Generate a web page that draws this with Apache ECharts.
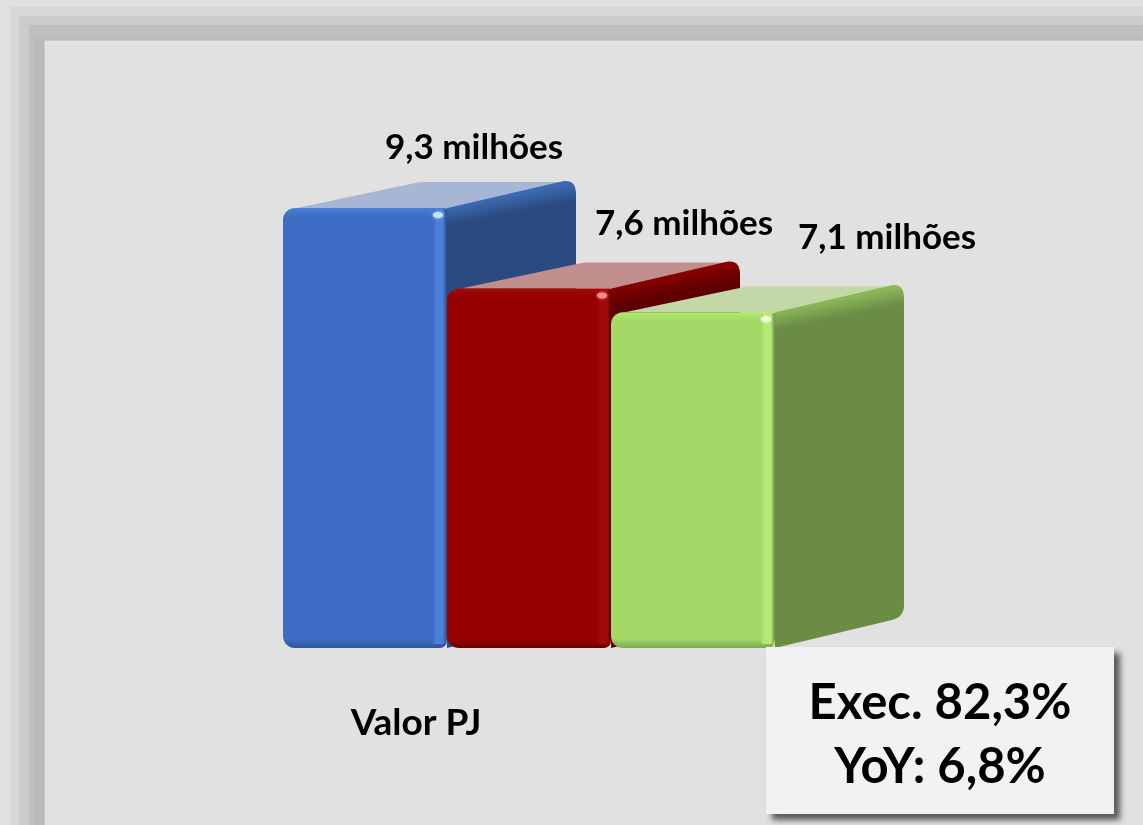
<!DOCTYPE html>
<html>
<head>
<meta charset="utf-8">
<title>Valor PJ</title>
<style>
    html, body { margin: 0; padding: 0; background: #e0e0e0; }
    #main { width: 1143px; height: 825px; }
</style>
<script src="https://cdn.jsdelivr.net/npm/echarts@6/dist/echarts.min.js"></script>
</head>
<body>
<div id="main"></div>
<script>
var categories = ['Valor PJ'];
var seriesNames = ['Serie 1', 'Serie 2', 'Serie 3'];
var blueValues = [9.3];
var redValues = [7.6];
var greenValues = [7.1];
var summaryLines = ['Exec. 82,3%', 'YoY: 6,8%'];
var unitLabel = ' milhões';

var FONT = 'Lato, "Open Sans", sans-serif';

// cores de cada caixa: frente, chanfro, topo, lateral, borda da lateral
var palette = [
    {front: '#3d6dc4', bevel: '#4a80d8', top: '#a6b6d4', side: '#2a4a80', sideEdge: '#3d69b0', low: '#2f5699', spot: '#c5e6ff'},
    {front: '#950000', bevel: '#a50a0a', top: '#c08f8d', side: '#5f0000', sideEdge: '#850000', low: '#6e0000', spot: '#ff8a8a'},
    {front: '#a3d967', bevel: '#b2ea74', top: '#c3d8a7', side: '#6a8c44', sideEdge: '#8ab65a', low: '#7ea553', spot: '#f0ffd8'}
];
// deslocamento do rotulo em relacao ao topo da frente
var labelOffset = [[109, -60], [155, -65], [194, -74]];

var DEPTH_X = 129;
var DEPTH_Y = 26;
var RADIUS = 12;

function renderBox(params, api) {
    var i = params.seriesIndex;
    var c = palette[i];
    var center = api.coord([api.value(0), 0]);
    var band = api.size([1, 0])[0];
    var w = band / 3;
    var left = center[0] - band / 2 + i * w;
    var right = left + w;
    var bottom = center[1];
    var top = api.coord([api.value(0), api.value(1)])[1];
    var height = bottom - top;
    var backRight = right + DEPTH_X;
    var backTop = top - DEPTH_Y;
    var backBottom = bottom - DEPTH_Y - 5;
    var r = RADIUS;
    var edge = 9 / height;

    var sidePath = 'M' + right + ' ' + top +
        'L' + (backRight - r) + ' ' + (backTop - 1) +
        'Q' + backRight + ' ' + (backTop - 2) + ' ' + backRight + ' ' + (backTop + r) +
        'L' + backRight + ' ' + (backBottom - r) +
        'Q' + backRight + ' ' + backBottom + ' ' + (backRight - r) + ' ' + (backBottom + 3) +
        'L' + right + ' ' + bottom + 'Z';
    var topFace = [
        [left + r + 2, top],
        [left + DEPTH_X + 8, backTop],
        [backRight - r, backTop],
        [right, top]
    ];
    var label = api.value(1).toFixed(1).replace('.', ',') + unitLabel;

    return {
        type: 'group',
        children: [
            {type: 'polygon', shape: {points: topFace}, style: {fill: c.top}},
            {
                type: 'path',
                shape: {pathData: sidePath},
                style: {
                    // gradiente perpendicular a aresta inclinada da lateral
                    fill: new echarts.graphic.LinearGradient(
                        right, top, right + height * 0.196, top + height * 0.98,
                        [
                            {offset: 0, color: c.sideEdge},
                            {offset: 2 * edge, color: c.side},
                            {offset: 1 - edge, color: c.side},
                            {offset: 1, color: c.low}
                        ],
                        true
                    )
                }
            },
            {
                type: 'rect',
                shape: {x: left, y: top, width: w, height: height, r: [r, 1, 7, r]},
                style: {
                    fill: new echarts.graphic.LinearGradient(0, 0, 0, 1, [
                        {offset: 0, color: c.bevel},
                        {offset: edge, color: c.front},
                        {offset: 1 - edge, color: c.front},
                        {offset: 1, color: c.low}
                    ])
                }
            },
            {
                type: 'rect',
                shape: {x: right - 14, y: top + 1, width: 14, height: height - 5, r: [0, 1, 6, 0]},
                style: {
                    fill: new echarts.graphic.LinearGradient(0, 0, 1, 0, [
                        {offset: 0, color: c.front},
                        {offset: 0.25, color: c.bevel},
                        {offset: 0.7, color: c.bevel},
                        {offset: 1, color: c.side}
                    ])
                }
            },
            {
                type: 'ellipse',
                shape: {cx: right - 9, cy: top + 7, rx: 5, ry: 3},
                style: {fill: c.spot, shadowColor: c.spot, shadowBlur: 3}
            },
            {
                type: 'text',
                z2: 50,
                style: {
                    text: label,
                    x: left + w / 2 + labelOffset[i][0],
                    y: top + labelOffset[i][1],
                    align: 'center',
                    verticalAlign: 'middle',
                    font: 'bold 35px ' + FONT,
                    fill: '#000000'
                }
            }
        ]
    };
}

function boxSeries(index, values) {
    return {
        type: 'custom',
        name: seriesNames[index],
        renderItem: renderBox,
        encode: {x: 0, y: 1},
        data: values.map(function (v, k) { return [k, v]; }),
        z: 2 + index
    };
}

// moldura em degrade feita de retangulos encaixados
function frameRects() {
    var bands = [
        [0, 0, '#e0e0e0'],
        [10, 7, '#d7d7d7'],
        [19, 16, '#cccccc'],
        [29, 25, '#bfbfbf'],
        [34, 36, '#bababa'],
        [44, 40, '#c9c9c9'],
        [45, 41, '#e1e1e1']
    ];
    return bands.map(function (b) {
        return {
            type: 'rect',
            z: -10,
            shape: {x: b[0], y: b[1], width: 1143 - b[0], height: 825 - b[1]},
            style: {fill: b[2]}
        };
    });
}

var chart = echarts.init(document.getElementById('main'));

var option = {
    animation: false,
    backgroundColor: '#e0e0e0',
    graphic: {
        elements: frameRects().concat([
            {
                type: 'rect',
                z: 20,
                shape: {x: 766, y: 647, width: 348, height: 167},
                style: {
                    fill: '#f2f2f2',
                    shadowColor: 'rgba(0, 0, 0, 0.6)',
                    shadowBlur: 6,
                    shadowOffsetX: 6,
                    shadowOffsetY: 6
                }
            },
            {
                type: 'text',
                z: 21,
                style: {
                    text: summaryLines[0],
                    x: 940,
                    y: 703,
                    align: 'center',
                    verticalAlign: 'middle',
                    font: 'bold 49px ' + FONT,
                    fill: '#000000'
                }
            },
            {
                type: 'text',
                z: 21,
                style: {
                    text: summaryLines[1],
                    x: 940,
                    y: 767,
                    align: 'center',
                    verticalAlign: 'middle',
                    font: 'bold 49px ' + FONT,
                    fill: '#000000'
                }
            }
        ])
    },
    grid: {left: 283, top: 175, width: 492, height: 473},
    xAxis: {
        type: 'category',
        data: categories,
        axisLine: {show: false},
        axisTick: {show: false},
        splitLine: {show: false},
        axisLabel: {
            margin: 57,
            padding: [0, 226, 0, 0],
            color: '#000000',
            fontFamily: 'Lato, "Open Sans", sans-serif',
            fontWeight: 'bold',
            fontSize: 37
        }
    },
    yAxis: {
        type: 'value',
        min: 0,
        max: 10,
        show: false
    },
    series: [
        boxSeries(0, blueValues),
        boxSeries(1, redValues),
        boxSeries(2, greenValues)
    ]
};

chart.setOption(option);
</script>
</body>
</html>
